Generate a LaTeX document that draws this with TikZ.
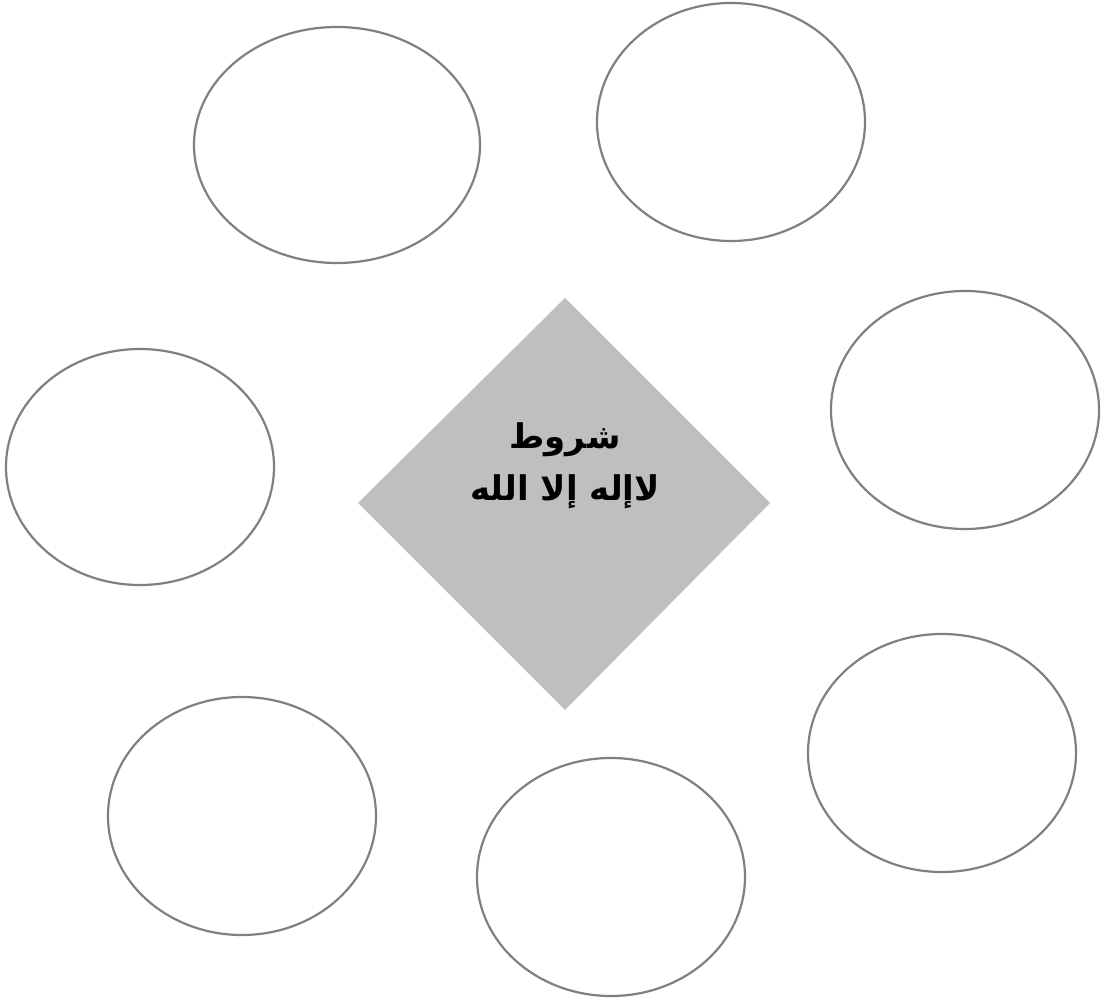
\documentclass[tikz,border=0pt]{standalone}
\usepackage{fontspec}
\newfontfamily\arabicfont[Script=Arabic]{DejaVu Sans}
\TeXXeTstate=1
\usetikzlibrary{shapes.geometric}
\definecolor{ringgray}{HTML}{808080}
\definecolor{diamgray}{HTML}{BFBFBF}
\tikzset{
  ring/.style={draw=ringgray, line width=2.2pt, ellipse, minimum width=#1},
  ring/.default={268pt},
  title/.style={font=\arabicfont\bfseries\fontsize{34}{40}\selectfont, inner sep=0pt},
}
\begin{document}
\begin{tikzpicture}[x=1pt,y=-1pt]
\useasboundingbox (0,0) rectangle (1104,1000);
\node[ring, minimum width=286pt, minimum height=236pt] (e1) at (337,145) {};
\node[ring, minimum height=238pt] (e2) at (731,122) {};
\node[ring, minimum height=238pt] (e3) at (965,410) {};
\node[ring, minimum height=236pt] (e4) at (140,467) {};
\node[ring, minimum height=238pt] (e5) at (242,816) {};
\node[ring, minimum height=238pt] (e6) at (611,877) {};
\node[ring, minimum height=238pt] (e7) at (942,753) {};
\fill[diamgray] (565,298) coordinate (dt) -- (770,503) coordinate (dr) -- (565,710) coordinate (db) -- (358,503) coordinate (dl) -- cycle;
\node[title] (t1) at (565,440) {\beginR شروط\endR};
\node[title] (t2) at (565,492) {\beginR لاإله إلا الله\endR};
\end{tikzpicture}
\end{document}
